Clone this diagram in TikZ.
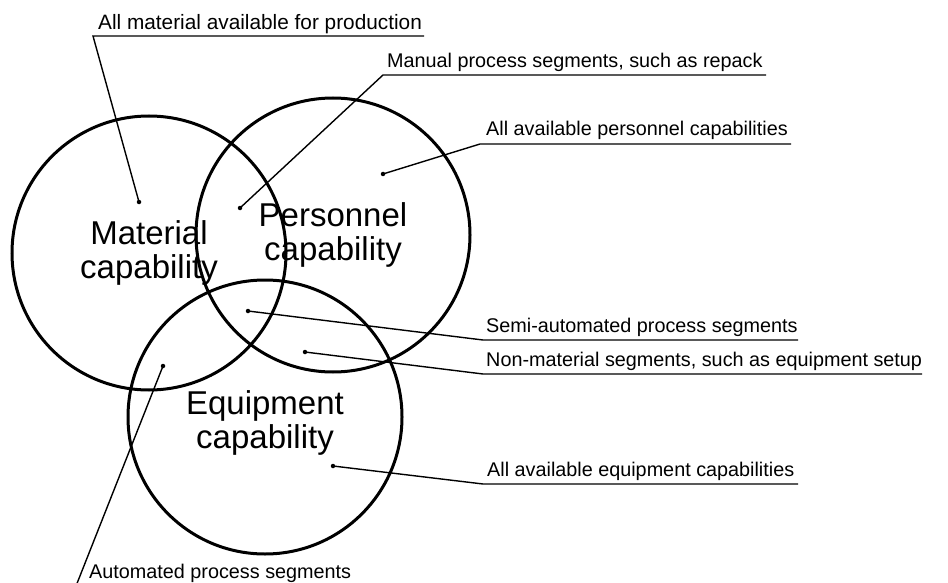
\documentclass[tikz,border=0pt]{standalone}
\usepackage{fontspec}
\setmainfont{Liberation Sans}
\begin{document}
\begin{tikzpicture}[x=1pt,y=-1pt,
  ring/.style={draw=black,line width=3pt,circle,minimum size=274pt,inner sep=0pt},
  big/.style={font=\fontsize{33}{34}\selectfont,align=center,anchor=base,inner sep=0pt},
  lab/.style={font=\fontsize{19.8}{22}\selectfont,anchor=base west,inner sep=0pt},
  lead/.style={line width=1.4pt},
  dot/.style={fill=black,circle,inner sep=0pt,minimum size=4.5pt}]
\useasboundingbox (0,0) rectangle (948,583);
% circles
\node[ring] (mat) at (149,253) {};
\node[ring] (per) at (333,235) {};
\node[ring] (equ) at (265,417) {};
% big labels (anchor at baseline of the last line)
\node[big] (matT) at (149,278) {Material\\capability};
\node[big] (perT) at (333,260) {Personnel\\capability};
\node[big] (equT) at (265,448) {Equipment\\capability};
% dots
\node[dot] (d1) at (139,202) {};
\node[dot] (d2) at (240,208) {};
\node[dot] (d3) at (383,174) {};
\node[dot] (d4) at (248,311) {};
\node[dot] (d5) at (305,352) {};
\node[dot] (d6) at (333,466) {};
\node[dot] (d7) at (163,366) {};
% labels
\node[lab,font=\fontsize{20.8}{22}\selectfont] (l1) at (98,30) {All material available for production};
\node[lab] (l2) at (387,68) {Manual process segments, such as repack};
\node[lab] (l3) at (486,136) {All available personnel capabilities};
\node[lab] (l4) at (486,332) {Semi-automated process segments};
\node[lab] (l5) at (486,366) {Non-material segments, such as equipment setup};
\node[lab] (l6) at (487,476) {All available equipment capabilities};
\node[lab] (l7) at (89,578) {Automated process segments};
% underline coordinates
\coordinate (u1a) at (93,36);  \coordinate (u1b) at (424,36);
\coordinate (u2a) at (383,75); \coordinate (u2b) at (766,75);
\coordinate (u3a) at (480,144);\coordinate (u3b) at (791,144);
\coordinate (u4a) at (483,340);\coordinate (u4b) at (798,340);
\coordinate (u5a) at (483,374);\coordinate (u5b) at (922,374);
\coordinate (u6a) at (483,484);\coordinate (u6b) at (798,484);
\coordinate (u7a) at (76,586);
% leaders
\draw[lead] (d1.center) -- (u1a) -- (u1b);
\draw[lead] (d2.center) -- (u2a) -- (u2b);
\draw[lead] (d3.center) -- (u3a) -- (u3b);
\draw[lead] (d4.center) -- (u4a) -- (u4b);
\draw[lead] (d5.center) -- (u5a) -- (u5b);
\draw[lead] (d6.center) -- (u6a) -- (u6b);
\draw[lead] (d7.center) -- (u7a);
\end{tikzpicture}
\end{document}
